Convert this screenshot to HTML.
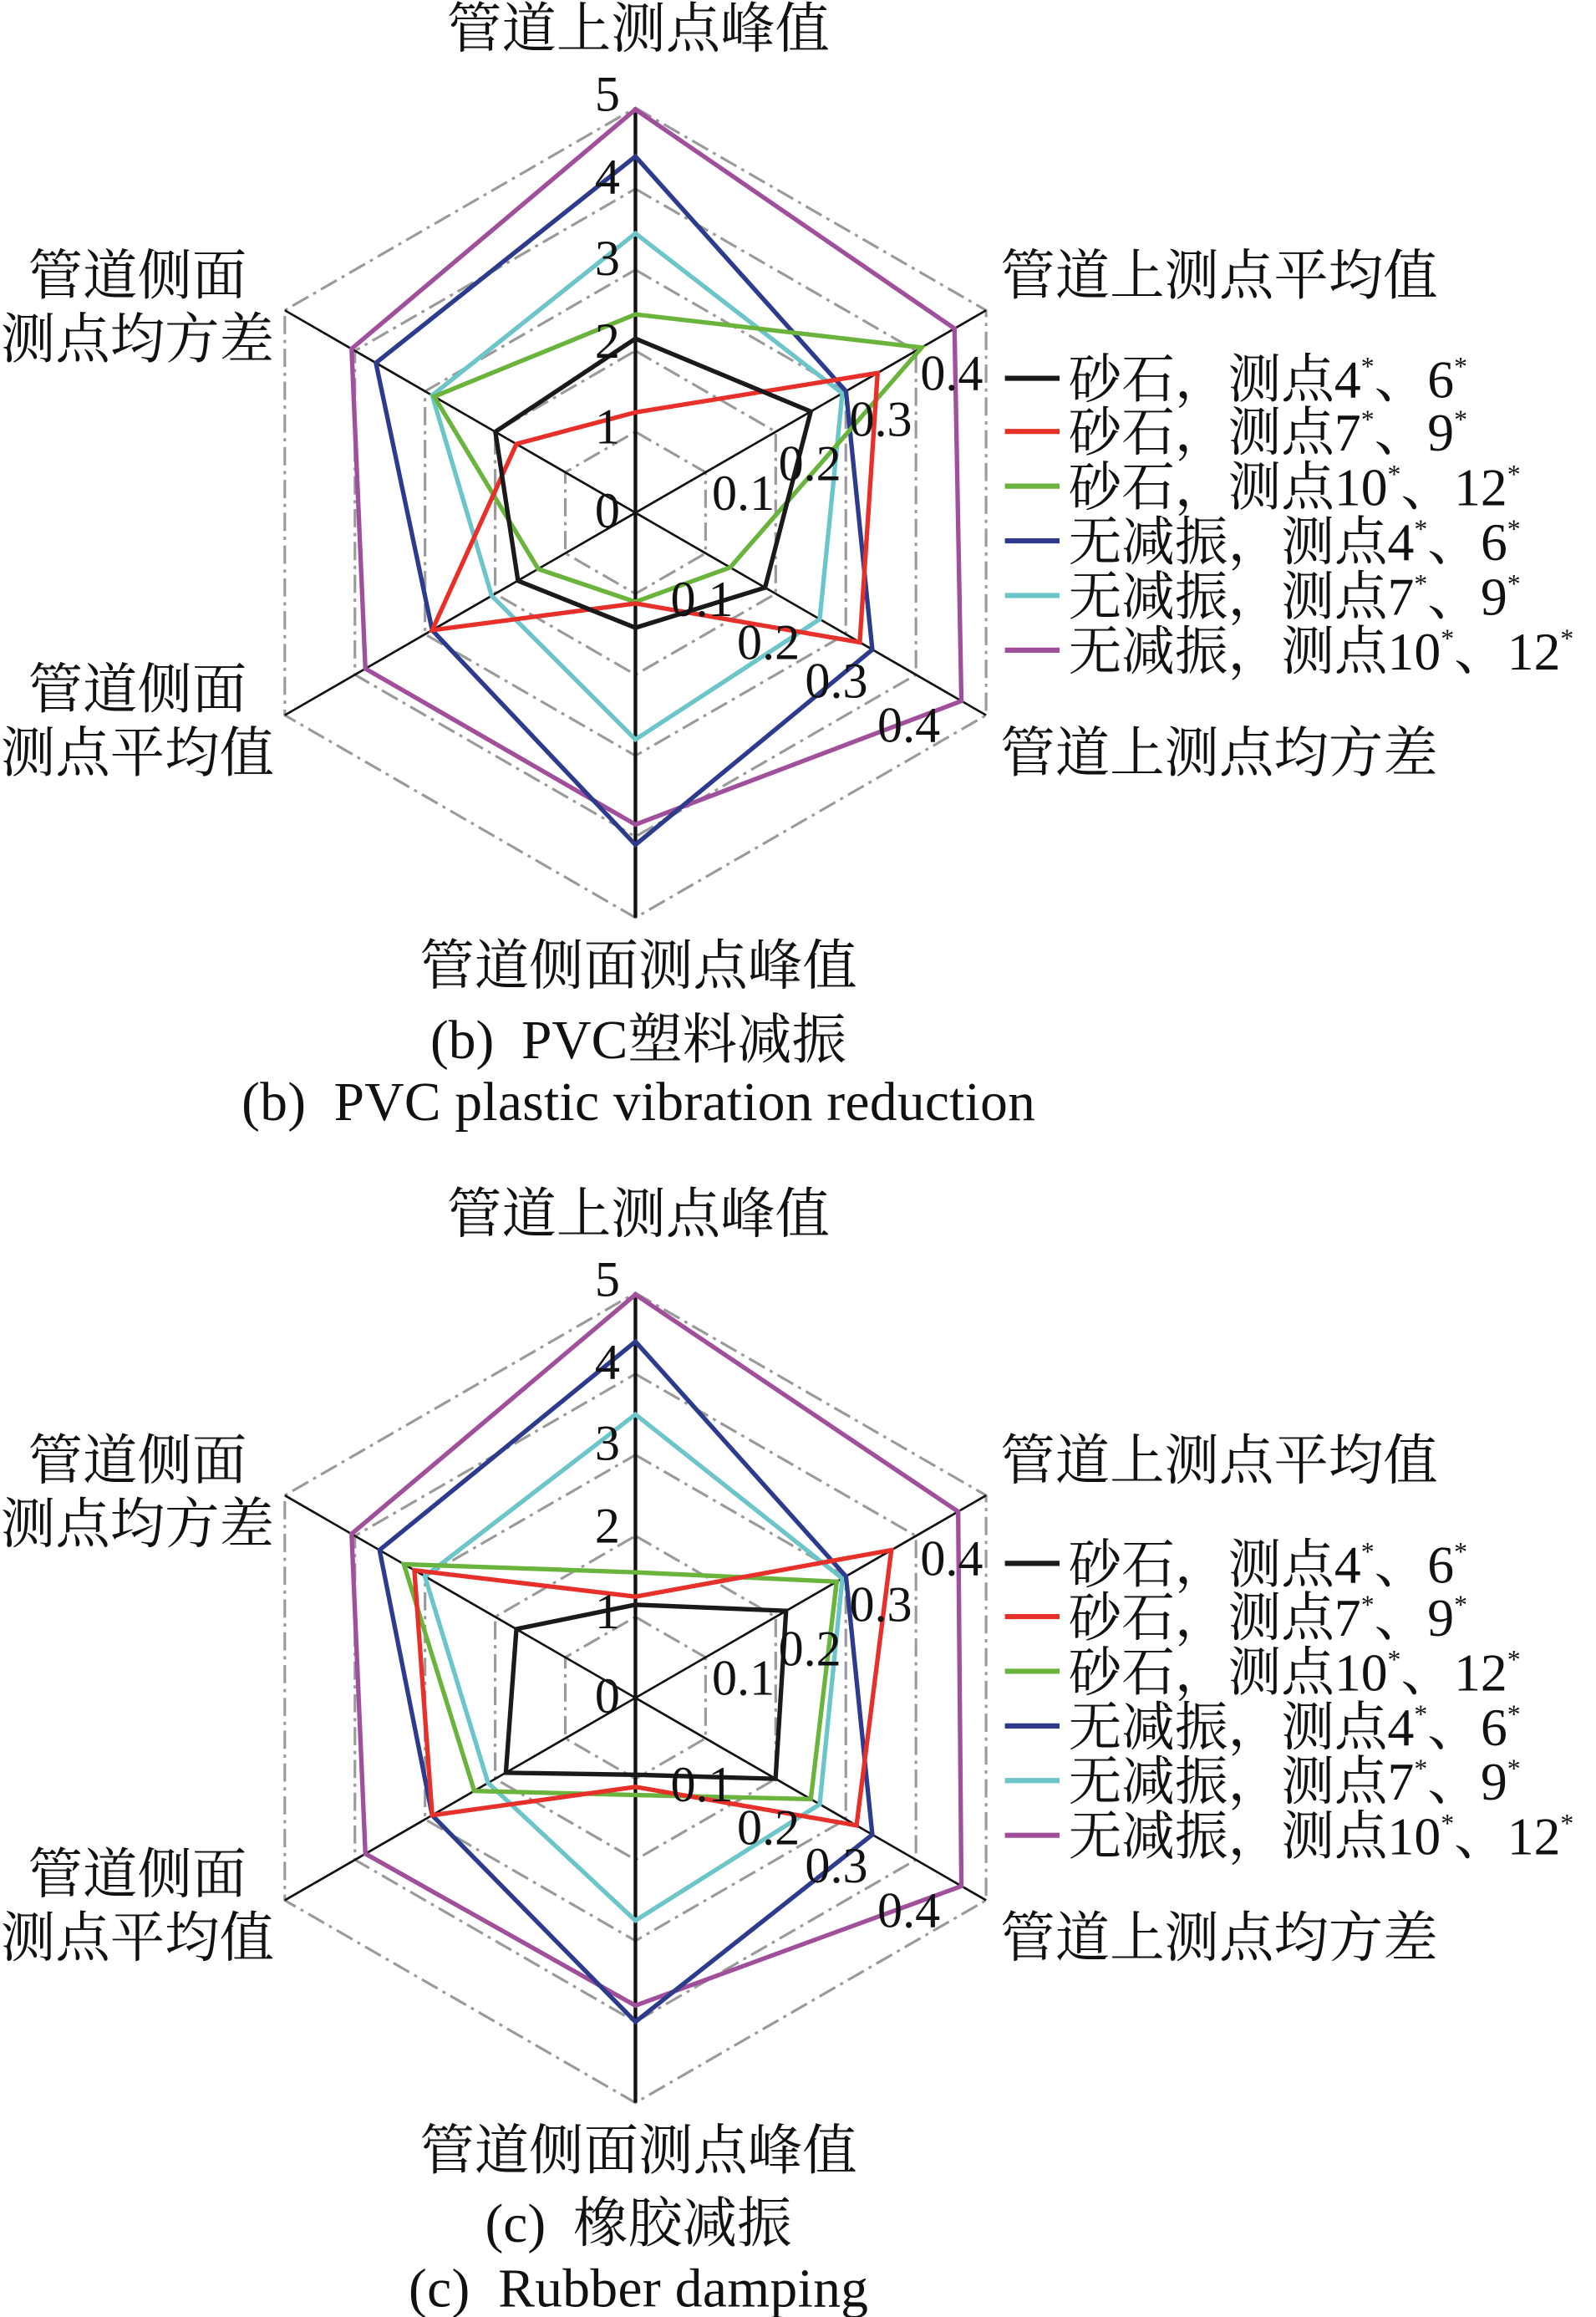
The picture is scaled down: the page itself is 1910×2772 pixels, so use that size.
<!DOCTYPE html>
<html><head><meta charset="utf-8"><style>
html,body{margin:0;padding:0;background:#fff;}
svg{display:block;}
text{font-family:"Liberation Serif","Noto Serif CJK SC",serif;fill:#111;}
.cjk{font-size:37px;}
.cap{font-size:37px;}
.num{font-size:34px;}
.leg{font-size:36px;}
.sup{font-size:18px;}
</style></head><body>
<svg width="1910" height="2772" viewBox="0 0 1080 1568" preserveAspectRatio="none" xmlns="http://www.w3.org/2000/svg">
<defs>
<g id="grid">
 <g fill="none" stroke="#9a9a9a" stroke-width="0.0065" stroke-dasharray="0.045 0.014 0.008 0.014">
  <polygon points="0,-0.2 0.1732,-0.1 0.1732,0.1 0,0.2 -0.1732,0.1 -0.1732,-0.1"/>
  <polygon points="0,-0.4 0.3464,-0.2 0.3464,0.2 0,0.4 -0.3464,0.2 -0.3464,-0.2"/>
  <polygon points="0,-0.6 0.5196,-0.3 0.5196,0.3 0,0.6 -0.5196,0.3 -0.5196,-0.3"/>
  <polygon points="0,-0.8 0.6928,-0.4 0.6928,0.4 0,0.8 -0.6928,0.4 -0.6928,-0.4"/>
  <polygon points="0,-1 0.866,-0.5 0.866,0.5 0,1 -0.866,0.5 -0.866,-0.5"/>
 </g>
 <g stroke="#111" stroke-width="0.0055">
  <line x1="0" y1="0" x2="0.866" y2="-0.5"/>
  <line x1="0" y1="0" x2="0.866" y2="0.5"/>
  <line x1="0" y1="0" x2="-0.866" y2="0.5"/>
  <line x1="0" y1="0" x2="-0.866" y2="-0.5"/>
 </g>
 <line x1="0" y1="-1" x2="0" y2="1" stroke="#111" stroke-width="0.009"/>
</g>
</defs>

<g transform="translate(430,347) scale(274)">
 <use href="#grid"/>
 <g fill="none" stroke-width="0.011">
  <polygon stroke="#a0509a" points="0,-0.996 0.788,-0.455 0.805,0.465 0,0.77 -0.667,0.385 -0.701,-0.405"/>
  <polygon stroke="#6cc5c8" points="0,-0.69 0.511,-0.295 0.455,0.263 0,0.56 -0.355,0.205 -0.502,-0.29"/>
  <polygon stroke="#2e3a8c" points="0,-0.88 0.52,-0.30 0.585,0.338 0,0.82 -0.502,0.29 -0.641,-0.37"/>
  <polygon stroke="#6ab33c" points="0,-0.49 0.707,-0.408 0.234,0.135 0,0.22 -0.24,0.139 -0.497,-0.287"/>
  <polygon stroke="#e8302a" points="0,-0.248 0.598,-0.345 0.554,0.32 0,0.224 -0.502,0.29 -0.294,-0.17"/>
  <polygon stroke="#1a1a1a" points="0,-0.43 0.433,-0.25 0.32,0.185 0,0.284 -0.29,0.168 -0.346,-0.2"/>
 </g>
</g>

<g transform="translate(430,1149) scale(274)">
 <use href="#grid"/>
 <g fill="none" stroke-width="0.011">
  <polygon stroke="#a0509a" points="0,-0.996 0.797,-0.46 0.805,0.465 0,0.76 -0.667,0.385 -0.701,-0.405"/>
  <polygon stroke="#6cc5c8" points="0,-0.70 0.511,-0.295 0.455,0.263 0,0.55 -0.364,0.21 -0.52,-0.30"/>
  <polygon stroke="#2e3a8c" points="0,-0.88 0.52,-0.30 0.585,0.338 0,0.80 -0.502,0.29 -0.632,-0.365"/>
  <polygon stroke="#6ab33c" points="0,-0.31 0.497,-0.287 0.433,0.25 0,0.24 -0.398,0.23 -0.572,-0.33"/>
  <polygon stroke="#e8302a" points="0,-0.25 0.632,-0.365 0.546,0.315 0,0.22 -0.502,0.29 -0.546,-0.315"/>
  <polygon stroke="#1a1a1a" points="0,-0.23 0.372,-0.215 0.346,0.2 0,0.19 -0.32,0.185 -0.294,-0.17"/>
 </g>
</g>

<g id="txtb">
 <text class="cjk" x="432" y="32" text-anchor="middle">管道上测点峰值</text>
 <text class="cjk" x="677" y="199">管道上测点平均值</text>
 <text class="cjk" x="677" y="522">管道上测点均方差</text>
 <text class="cjk" x="432" y="666" text-anchor="middle">管道侧面测点峰值</text>
 <text class="cjk" x="93" y="199" text-anchor="middle">管道侧面</text>
 <text class="cjk" x="93" y="242" text-anchor="middle">测点均方差</text>
 <text class="cjk" x="93" y="479" text-anchor="middle">管道侧面</text>
 <text class="cjk" x="93" y="522" text-anchor="middle">测点平均值</text>

 <g text-anchor="middle">
  <text class="num" x="411" y="75">5</text>
  <text class="num" x="411" y="131">4</text>
  <text class="num" x="411" y="186">3</text>
  <text class="num" x="411" y="242">2</text>
  <text class="num" x="411" y="300">1</text>
  <text class="num" x="411" y="357">0</text>
  <text class="num" x="503" y="345">0.1</text>
  <text class="num" x="548" y="325">0.2</text>
  <text class="num" x="596" y="295">0.3</text>
  <text class="num" x="644" y="264">0.4</text>
  <text class="num" x="475" y="417">0.1</text>
  <text class="num" x="520" y="446">0.2</text>
  <text class="num" x="566" y="472">0.3</text>
  <text class="num" x="615" y="502">0.4</text>
 </g>

 <g stroke-width="3.5">
  <line x1="680" y1="256" x2="717" y2="256" stroke="#1a1a1a"/>
  <line x1="680" y1="292" x2="717" y2="292" stroke="#e8302a"/>
  <line x1="680" y1="329" x2="717" y2="329" stroke="#6ab33c"/>
  <line x1="680" y1="366" x2="717" y2="366" stroke="#2e3a8c"/>
  <line x1="680" y1="403" x2="717" y2="403" stroke="#6cc5c8"/>
  <line x1="680" y1="440" x2="717" y2="440" stroke="#a0509a"/>
 </g>
 <text class="leg" x="723" y="269">砂石，测点4<tspan class="sup" dy="-15">*</tspan><tspan dy="15">、6</tspan><tspan class="sup" dy="-15">*</tspan></text>
 <text class="leg" x="723" y="305">砂石，测点7<tspan class="sup" dy="-15">*</tspan><tspan dy="15">、9</tspan><tspan class="sup" dy="-15">*</tspan></text>
 <text class="leg" x="723" y="342">砂石，测点10<tspan class="sup" dy="-15">*</tspan><tspan dy="15">、12</tspan><tspan class="sup" dy="-15">*</tspan></text>
 <text class="leg" x="723" y="379">无减振，测点4<tspan class="sup" dy="-15">*</tspan><tspan dy="15">、6</tspan><tspan class="sup" dy="-15">*</tspan></text>
 <text class="leg" x="723" y="416">无减振，测点7<tspan class="sup" dy="-15">*</tspan><tspan dy="15">、9</tspan><tspan class="sup" dy="-15">*</tspan></text>
 <text class="leg" x="723" y="453">无减振，测点10<tspan class="sup" dy="-15">*</tspan><tspan dy="15">、12</tspan><tspan class="sup" dy="-15">*</tspan></text>
</g>
<text class="cap" x="432" y="716" text-anchor="middle" xml:space="preserve">(b)  PVC塑料减振</text>
<text class="cap" x="432" y="758" text-anchor="middle" textLength="537" xml:space="preserve">(b)  PVC plastic vibration reduction</text>

<use href="#txtb" transform="translate(0,802)"/>
<text class="cap" x="432" y="1517" text-anchor="middle" xml:space="preserve">(c)  橡胶减振</text>
<text class="cap" x="432" y="1561" text-anchor="middle" textLength="311" xml:space="preserve">(c)  Rubber damping</text>
</svg>
</body></html>
